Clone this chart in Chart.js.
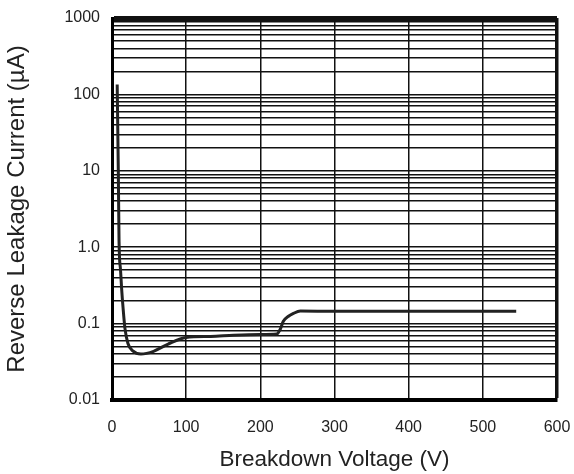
<!DOCTYPE html>
<html>
<head>
<meta charset="utf-8">
<script src="https://cdn.jsdelivr.net/npm/chart.js@4/dist/chart.umd.min.js"></script>
<style>
  body { margin: 0; background: #fff; }
</style>
</head>
<body>
<canvas id="chart" width="574" height="474"></canvas>
<script>
// breakdown voltage (V) vs reverse leakage current (uA)
const voltage = [7, 8.5, 9.5, 11.5, 13, 15, 17.5, 21.5, 28, 39, 56, 75, 100, 133, 164, 200, 222, 227, 231, 238, 244, 254, 300, 400, 500, 545];
const current = [135, 10, 1.2, 0.5, 0.285, 0.157, 0.086, 0.055, 0.044, 0.04, 0.0434, 0.0536, 0.066, 0.068, 0.0705, 0.072, 0.073, 0.085, 0.107, 0.125, 0.135, 0.146, 0.145, 0.145, 0.145, 0.145];

const xTicks = [0, 100, 200, 300, 400, 500, 600];
const yDecades = [0.01, 0.1, 1, 10, 100, 1000];
const yTickLabels = ["0.01", "0.1", "1.0", "10", "100", "1000"];

// every 1..9 step of each decade gets a grid line
const yGrid = [];
yDecades.forEach((d, i) => {
  if (i === yDecades.length - 1) { yGrid.push(d); return; }
  for (let k = 1; k <= 9; k++) yGrid.push(+(d * k).toPrecision(3));
});

const decadeLabel = (v) => {
  const i = yDecades.findIndex((d) => Math.abs(v / d - 1) < 1e-6);
  return i >= 0 ? yTickLabels[i] : "";
};

const fontFamily = "'Liberation Sans', Arial, sans-serif";
const tickFont = { family: fontFamily, size: 16 };

new Chart(document.getElementById("chart"), {
  type: "line",
  data: {
    datasets: [{
      data: voltage.map((v, i) => ({ x: v, y: current[i] })),
      borderColor: "#222",
      borderWidth: 3,
      pointRadius: 0,
      cubicInterpolationMode: "monotone",
      fill: false,
    }],
  },
  options: {
    responsive: false,
    animation: false,
    layout: { padding: { left: 0, right: 17, top: 18, bottom: 0 } },
    plugins: { legend: { display: false }, tooltip: { enabled: false } },
    scales: {
      x: {
        type: "linear",
        min: 0,
        max: 600,
        afterFit: (s) => { s.height = 74; s.paddingLeft = 0; s.paddingRight = 0; },
        afterBuildTicks: (s) => { s.ticks = xTicks.map((v) => ({ value: v })); },
        grid: {
          color: "#111",
          lineWidth: (c) => (c.tick && c.tick.value === 600 ? 3.5 : 1.5),
          drawTicks: false,
        },
        border: { display: true, color: "#000", width: 4 },
        ticks: { color: "#222", font: tickFont, padding: 18, maxRotation: 0 },
        title: {
          display: true,
          text: "Breakdown Voltage (V)",
          color: "#222",
          font: { family: fontFamily, size: 22.5 },
          padding: { top: 0, bottom: 1 },
        },
      },
      y: {
        type: "logarithmic",
        min: 0.01,
        max: 1000,
        afterFit: (s) => { s.width = 112; s.paddingTop = 0; s.paddingBottom = 0; },
        afterBuildTicks: (s) => { s.ticks = yGrid.map((v) => ({ value: v })); },
        grid: {
          color: "#111",
          lineWidth: (c) => (c.tick && c.tick.value === 1000 ? 5 : 1.5),
          drawTicks: false,
        },
        border: { display: true, color: "#000", width: 3 },
        ticks: {
          color: "#222",
          font: tickFont,
          padding: 12,
          autoSkip: false,
          callback: (v) => decadeLabel(v),
        },
        title: {
          display: true,
          text: "Reverse Leakage Current (µA)",
          color: "#222",
          font: { family: fontFamily, size: 24 },
          padding: { top: 3, bottom: 0 },
        },
      },
    },
  },
});
</script>
</body>
</html>
